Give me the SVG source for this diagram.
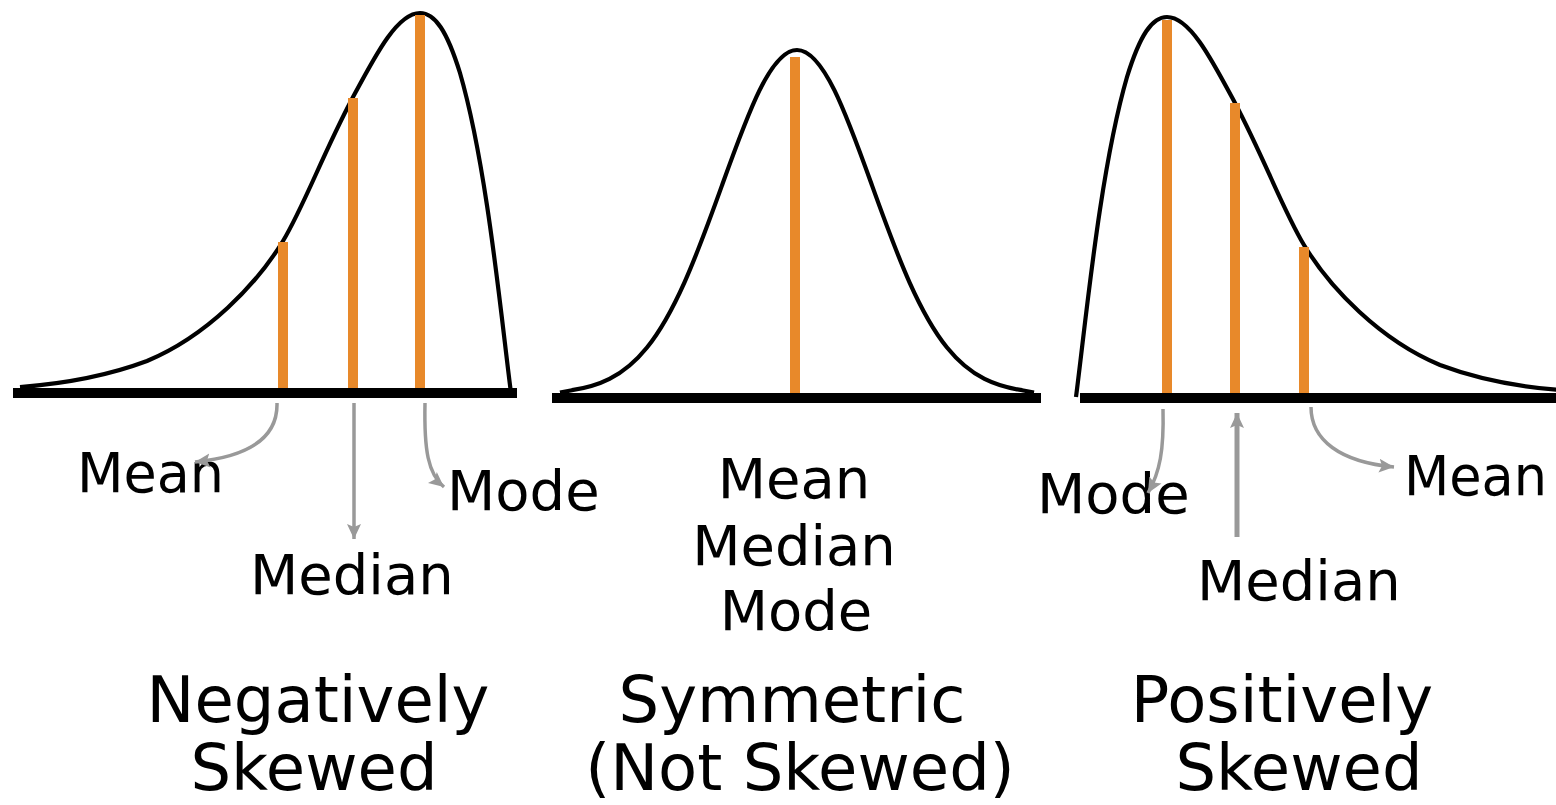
<svg xmlns="http://www.w3.org/2000/svg" width="1556" height="805" viewBox="0 0 1556 805">
  <style>
    .axis { stroke: #000; stroke-width: 10; fill: none; }
    .curve { stroke: #000; stroke-width: 4.2; fill: none; stroke-linejoin: round; }
    .bar { stroke: #E8892A; stroke-width: 10; fill: none; }
    .arrow { stroke: #999; stroke-width: 3.5; fill: none; marker-end: url(#ah); }
    .lbl { font-family: "DejaVu Sans", "Liberation Sans", sans-serif; font-size: 56px; fill: #000; }
    .ttl { font-family: "DejaVu Sans", "Liberation Sans", sans-serif; font-size: 64px; fill: #000; text-anchor: middle; }
  </style>
  <defs>
    <marker id="ah" markerUnits="userSpaceOnUse" markerWidth="18" markerHeight="16" refX="15" refY="8" orient="auto">
      <path d="M0,1 L15,8 L0,15 L3,8 z" fill="#999"/>
    </marker>
  </defs>
  <rect width="1556" height="805" fill="#fff"/>

  <g id="negatively-skewed">
    <path class="curve" d="M20,387 C60,384 107,376 147,361 C207,336 257,284 283,241 C304,206 322,156 352,99 C375,56 397,13 420,13 C435,13 447,31 460,73 C487,166 501,316 511,393"/>
    <line class="bar" x1="283" y1="242" x2="283" y2="390"/>
    <line class="bar" x1="353" y1="98" x2="353" y2="390"/>
    <line class="bar" x1="420" y1="15" x2="420" y2="390"/>
    <line class="axis" x1="13" y1="393" x2="517" y2="393"/>
    <text class="lbl" x="77" y="492" textLength="147" lengthAdjust="spacingAndGlyphs">Mean</text>
    <text class="lbl" x="250" y="594">Median</text>
    <text class="lbl" x="447" y="510">Mode</text>
    <text class="ttl" x="318" y="722">Negatively</text>
    <text class="ttl" x="314" y="790">Skewed</text>
  </g>

  <g id="symmetric">
    <path class="curve" d="M560,392.5 L572,390.2 C584.5,388.3 597,385.2 609.5,378.9 C622,372.6 634.5,363 647,347.5 C659.5,332 672,310.2 684.5,282.3 C697,254.4 709.5,220.2 722,185.4 C734.5,150.6 747,115.7 759.5,90.4 C772,65.1 784.5,50 797,50 C809.5,50 822,65.1 834.5,90.4 C847,115.7 859.5,150.6 872,185.4 C884.5,220.2 897,254.4 909.5,282.3 C922,310.2 934.5,332 947,347.5 C959.5,363 972,372.6 984.5,378.9 C997,385.2 1009.5,388.3 1022,390.2 L1034,392.5"/>
    <line class="bar" x1="795" y1="57" x2="795" y2="396"/>
    <line class="axis" x1="552" y1="398" x2="1041" y2="398"/>
    <text class="lbl" x="794" y="498" text-anchor="middle">Mean</text>
    <text class="lbl" x="794" y="565" text-anchor="middle">Median</text>
    <text class="lbl" x="796" y="630" text-anchor="middle">Mode</text>
    <text class="ttl" x="792" y="722">Symmetric</text>
    <text class="ttl" x="800" y="790">(Not Skewed)</text>
  </g>

  <g id="positively-skewed">
    <path class="curve" d="M1076,397 C1086,320 1100,170 1127,77 C1140,35 1152,17 1167,17 C1190,17 1212,60 1235,103 C1265,160 1283,210 1304,245 C1330,288 1380,340 1440,365 C1480,380 1520,387 1560,390"/>
    <line class="bar" x1="1167" y1="20" x2="1167" y2="396"/>
    <line class="bar" x1="1235" y1="103" x2="1235" y2="396"/>
    <line class="bar" x1="1304" y1="247" x2="1304" y2="396"/>
    <line class="axis" x1="1080" y1="398" x2="1556" y2="398"/>
    <text class="lbl" x="1037" y="513">Mode</text>
    <text class="lbl" x="1197" y="600">Median</text>
    <text class="lbl" x="1404" y="495" textLength="143" lengthAdjust="spacingAndGlyphs">Mean</text>
    <text class="ttl" x="1282" y="722">Positively</text>
    <text class="ttl" x="1299" y="790">Skewed</text>
  </g>

  <g id="connectors">
    <path class="arrow" d="M277,403 C278,440 245,457 195,462"/>
    <path class="arrow" d="M354,403 L354,539"/>
    <path class="arrow" d="M425,403 C424,450 428,474 444,487"/>
    <path class="arrow" d="M1163,409 C1164,450 1160,472 1148,493"/>
    <path class="arrow" d="M1237,537 L1237,413" style="stroke-width:5"/>
    <path class="arrow" d="M1311,407 C1311,440 1340,462 1394,467"/>
  </g>
</svg>
